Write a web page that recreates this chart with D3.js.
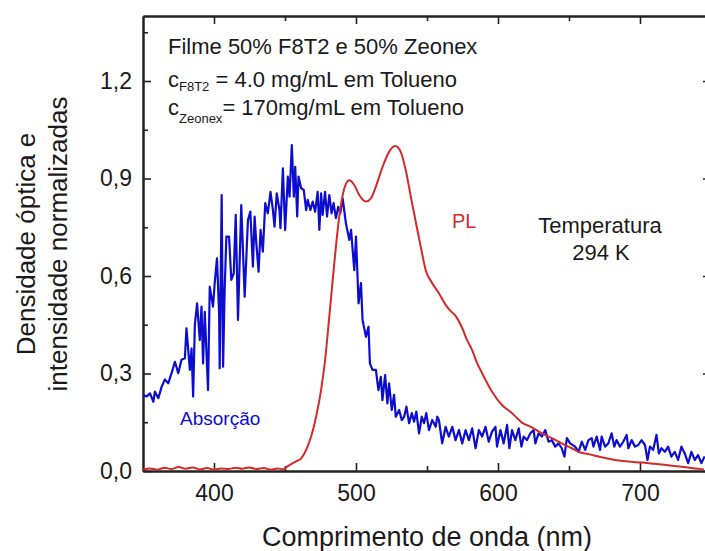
<!DOCTYPE html>
<html>
<head>
<meta charset="utf-8">
<script src="https://cdn.jsdelivr.net/npm/d3@7"></script>
<style>
  body { margin: 0; background: #fff; }
  svg { display: block; font-family: "Liberation Sans", Arial, sans-serif; }
  .axis path, .axis line { stroke: #222; }
  .axis path { stroke-width: 2; }
  .axis line { stroke-width: 1.6; }
  .axis text { fill: #1a1a1a; font-size: 23px; }
  .note { fill: #1a1a1a; font-size: 22px; }
</style>
</head>
<body>
<svg id="chart" width="705" height="551"></svg>
<script>
// ---- data ----
const absNm = [350.0,352.6,354.9,357.3,358.4,360.8,363.1,365.4,367.8,370.1,372.5,374.8,377.1,379.5,380.6,383.0,384.2,385.3,386.5,388.1,390.0,391.2,392.3,393.5,395.8,397.0,399.3,400.5,402.1,403.6,404.0,405.4,406.4,407.5,408.7,410.6,412.2,413.9,415.3,416.9,419.2,421.6,423.9,425.6,427.4,
  428.6,429.8,431.4,432.8,434.4,436.1,437.9,439.8,441.5,442.6,444.2,446.1,446.8,448.5,450.1,452.0,453.2,454.8,456.2,457.2,458.6,459.5,461.4,463.2,464.9,466.0,467.9,469.5,471.2,473.0,474.2,475.4,476.5,478.2,479.6,481.2,482.8,484.2,485.9,487.5,488.9,490.6,
  492.9,495.3,496.5,498.8,500.0,501.8,503.5,504.6,507.0,508.8,509.8,511.6,514.0,515.8,517.5,518.6,520.5,522.1,523.3,525.2,526.8,528.0,530.4,532.2,533.9,535.5,537.4,539.3,540.9,542.5,544.4,546.3,547.9,549.5,551.4,553.7,556.1,557.2,
  558.4,560.7,563.1,565.4,567.8,570.1,572.5,574.8,577.2,579.5,581.8,584.2,586.5,588.8,591.2,593.5,595.8,598.2,599.3,601.7,604.0,606.4,608.0,609.9,612.2,614.6,616.5,618.1,620.4,622.8,625.1,626.3,628.6,630.9,633.3,635.6,637.9,640.3,642.6,644.9,646.8,648.5,650.8,
  654.3,656.7,659.0,661.4,663.7,666.0,667.2,669.5,671.9,673.0,675.4,677.7,680.0,681.9,683.5,685.9,688.2,690.6,691.8,694.1,696.5,698.8,701.1,703.5,705.3,707.0,709.3,711.6,713.3,715.1,717.5,719.8,722.1,724.5,726.8,729.2,731.5,733.9,736.2,738.6,740.9,743.2,745.5];
const absVal = [0.234,0.229,0.239,0.213,0.244,0.224,0.259,0.282,0.270,0.301,0.336,0.301,0.342,0.347,0.439,0.311,0.377,0.229,0.449,0.516,0.403,0.506,0.331,0.490,0.249,0.567,0.506,0.578,0.654,0.485,0.316,0.849,0.321,0.557,0.721,0.721,0.588,0.608,0.788,0.465,0.818,0.536,0.772,0.798,0.629,
  0.783,0.701,0.613,0.742,0.675,0.824,0.793,0.859,0.803,0.752,0.854,0.803,0.747,0.931,0.742,0.906,0.844,1.003,0.844,0.936,0.783,0.906,0.870,0.865,0.803,0.834,0.803,0.829,0.798,0.859,0.742,0.854,0.788,0.859,0.783,0.849,0.793,0.824,0.778,0.813,0.793,0.839,
  0.762,0.711,0.742,0.618,0.721,0.516,0.578,0.465,0.413,0.444,0.331,0.311,0.311,0.249,0.290,0.218,0.295,0.208,0.270,0.188,0.234,0.167,0.188,0.157,0.167,0.198,0.147,0.178,0.152,0.183,0.116,0.167,0.147,0.178,0.126,0.157,0.136,0.167,
  0.157,0.085,0.136,0.106,0.136,0.095,0.126,0.085,0.126,0.095,0.131,0.070,0.126,0.106,0.136,0.090,0.121,0.136,0.075,0.126,0.085,0.142,0.070,0.126,0.095,0.131,0.075,0.106,0.095,0.116,0.126,0.085,0.116,0.106,0.126,0.090,0.095,0.075,0.085,0.070,0.044,0.101,0.085,
  0.075,0.059,0.090,0.065,0.095,0.101,0.075,0.106,0.065,0.106,0.075,0.085,0.116,0.075,0.095,0.075,0.090,0.111,0.070,0.095,0.075,0.080,0.095,0.080,0.034,0.075,0.065,0.111,0.054,0.070,0.059,0.075,0.044,0.059,0.034,0.075,0.054,0.024,0.059,0.034,0.049,0.024,0.045];

const plNm = [350,355,360,365,370,375,380,385,390,395,400,405,410,415,420,425,430,435,440,445,448.5,452,455.5,458.5,461.4,464.9,468.4,471.9,475.4,478.2,481.2,484.7,488.2,491.8,495.3,498.8,502.3,507.0,510.5,514.0,518.7,523.3,527.5,531.5,535.0,538.6,542.1,545.6,549.1,553.7,558.4,563.1,566.0,570.0,574.8,578.0,581.8,585.0,588.8,595.8,602.8,609.9,616.9,623.9,630.9,637.9,644.9,652.0,656.7,663.7,673.0,682.4,691.8,701.1,710.5,719.8,729.2,738.6,745.0];
const plVal = [0.005,0.008,0.004,0.010,0.006,0.012,0.007,0.011,0.005,0.009,0.004,0.008,0.006,0.010,0.007,0.011,0.006,0.009,0.004,0.008,0.005,0.015,0.024,0.031,0.039,0.065,0.106,0.167,0.249,0.340,0.475,0.639,0.783,0.870,0.895,0.880,0.849,0.829,0.839,0.875,0.936,0.982,1.000,0.982,0.926,0.844,0.766,0.690,0.618,0.578,0.547,0.511,0.495,0.478,0.440,0.405,0.372,0.335,0.301,0.244,0.203,0.178,0.149,0.134,0.116,0.101,0.085,0.070,0.059,0.052,0.042,0.034,0.029,0.026,0.022,0.018,0.013,0.008,0.005];

const xMajor = [400, 500, 600, 700];
const xMinor = [450, 550, 650];
const yMajor = [0, 0.3, 0.6, 0.9, 1.2];
const yMinor = [0.15, 0.45, 0.75, 1.05, 1.35];

const blue = "#0d0dcf", red = "#d42a2a";

// ---- layout ----
const svg = d3.select("#chart");
const plotL = 143, plotR = 711, plotT = 16, plotB = 471;

const x = d3.scaleLinear().domain([350, 750]).range([plotL, plotR]);
const y = d3.scaleLinear().domain([0, 1.4]).range([plotB, plotT]);

const fmtY = d => d.toFixed(1).replace(".", ",");

// minor ticks first, then major axes (so frame lines sit on top)
svg.append("g").attr("class", "axis").attr("transform", `translate(0,${plotB})`)
  .call(d3.axisBottom(x).tickValues(xMinor).tickSize(-5).tickSizeOuter(0).tickFormat(""));
svg.append("g").attr("class", "axis").attr("transform", `translate(0,${plotT})`)
  .call(d3.axisTop(x).tickValues(xMinor).tickSize(-5).tickSizeOuter(0).tickFormat(""));
svg.append("g").attr("class", "axis").attr("transform", `translate(${plotL},0)`)
  .call(d3.axisLeft(y).tickValues(yMinor).tickSize(-5).tickSizeOuter(0).tickFormat(""));
svg.append("g").attr("class", "axis").attr("transform", `translate(${plotR},0)`)
  .call(d3.axisRight(y).tickValues(yMinor).tickSize(-5).tickSizeOuter(0).tickFormat(""));

svg.append("g").attr("class", "axis").attr("transform", `translate(0,${plotB})`)
  .call(d3.axisBottom(x).tickValues(xMajor).tickSize(-8).tickSizeOuter(0).tickPadding(14).tickFormat(d3.format("d")));
svg.append("g").attr("class", "axis").attr("transform", `translate(0,${plotT})`)
  .call(d3.axisTop(x).tickValues(xMajor).tickSize(-8).tickSizeOuter(0).tickFormat(""));
svg.append("g").attr("class", "axis").attr("transform", `translate(${plotL},0)`)
  .call(d3.axisLeft(y).tickValues(yMajor).tickSize(-8).tickSizeOuter(0).tickPadding(11).tickFormat(fmtY));
svg.append("g").attr("class", "axis").attr("transform", `translate(${plotR},0)`)
  .call(d3.axisRight(y).tickValues(yMajor).tickSize(-8).tickSizeOuter(0).tickFormat(""));

svg.selectAll(".axis").attr("font-family", null).attr("font-size", null);

// ---- curves ----
const absData = absNm.map((d, i) => [d, absVal[i]]);
const plData = plNm.map((d, i) => [d, plVal[i]]);

svg.append("path").datum(absData)
  .attr("fill", "none").attr("stroke", blue).attr("stroke-width", 2.2).attr("stroke-linejoin", "round")
  .attr("d", d3.line().x(d => x(d[0])).y(d => y(d[1])));

svg.append("path").datum(plData)
  .attr("fill", "none").attr("stroke", red).attr("stroke-width", 2)
  .attr("d", d3.line().curve(d3.curveMonotoneX).x(d => x(d[0])).y(d => y(d[1])));

// ---- axis titles ----
svg.append("text").attr("x", 427).attr("y", 546).attr("text-anchor", "middle")
  .attr("font-size", 27).attr("fill", "#1a1a1a").text("Comprimento de onda (nm)");

const yt = svg.append("text").attr("transform", "translate(0,244) rotate(-90)")
  .attr("text-anchor", "middle").attr("font-size", 26).attr("fill", "#1a1a1a");
yt.append("tspan").attr("x", 0).attr("y", 35).text("Densidade óptica e");
yt.append("tspan").attr("x", 0).attr("y", 67).text("intensidade normalizadas");

// ---- annotations ----
svg.append("text").attr("class", "note").attr("x", 168).attr("y", 54).text("Filme 50% F8T2 e 50% Zeonex");

const n2 = svg.append("text").attr("class", "note").attr("x", 168).attr("y", 87);
n2.append("tspan").text("c");
n2.append("tspan").attr("dy", 4).attr("font-size", 13).text("F8T2");
n2.append("tspan").attr("dy", -4).text(" = 4.0 mg/mL em Tolueno");

const n3 = svg.append("text").attr("class", "note").attr("x", 168).attr("y", 115);
n3.append("tspan").text("c");
n3.append("tspan").attr("dy", 8).attr("font-size", 13).text("Zeonex");
n3.append("tspan").attr("dy", -8).text("= 170mg/mL em Tolueno");

svg.append("text").attr("x", 452).attr("y", 228).attr("font-size", 20).attr("fill", red).text("PL");

svg.append("text").attr("class", "note").attr("x", 600).attr("y", 233).attr("text-anchor", "middle").text("Temperatura");
svg.append("text").attr("class", "note").attr("x", 601).attr("y", 260).attr("text-anchor", "middle").text("294 K");

svg.append("text").attr("x", 180).attr("y", 425).attr("font-size", 19).attr("fill", blue).text("Absorção");
</script>
</body>
</html>
